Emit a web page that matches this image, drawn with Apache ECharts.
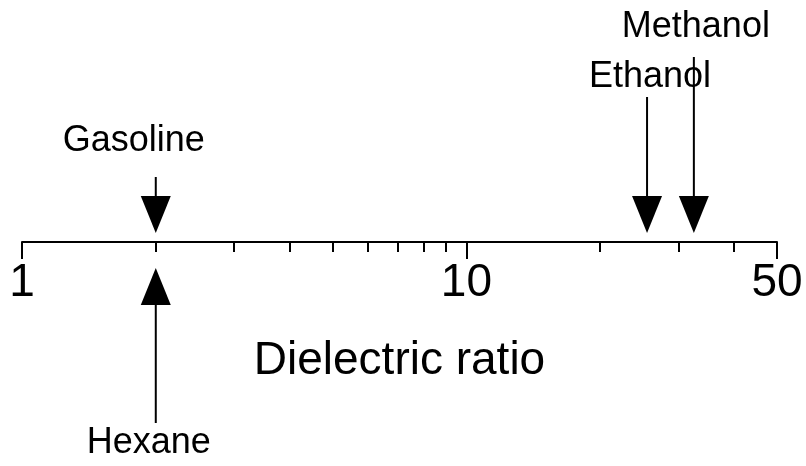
<!DOCTYPE html>
<html>
<head>
<meta charset="utf-8">
<script src="https://cdn.jsdelivr.net/npm/echarts@6/dist/echarts.min.js"></script>
<style>
  html, body { margin: 0; padding: 0; background: #fff; }
  #chart { width: 806px; height: 466px; }
</style>
</head>
<body>
<div id="chart"></div>
<script>
// Liquids and their dielectric ratios (log scale)
const liquids = ['Gasoline', 'Hexane', 'Ethanol', 'Methanol'];
const dielectric = [2.0, 2.0, 25.5, 32.5];

// Labelled ticks and the small ticks between them
const majorTicks = [1, 10, 50];
const minorTicks = [2, 3, 4, 5, 6, 7, 8, 9, 20, 30, 40];

// Arrow drawing (pixels measured from the axis line; +1 = above, -1 = below)
const arrowSide = [1, -1, 1, 1];
const tipGap = [9, 26, 9, 9];
const tailDist = [65, 181, 145, 185];
const labelDist = [101, 201, 165, 215];
const labelShift = [-22, -7, 3, 2];

const FONT = '"Liberation Sans", Arial, Helvetica, sans-serif';
const HEAD_W = 30, HEAD_H = 37, SHAFT = 2;

const chart = echarts.init(document.getElementById('chart'), null, { renderer: 'canvas' });

const seriesData = liquids.map((name, i) => ({ name, value: [dielectric[i], 0] }));

chart.setOption({
  animation: false,
  backgroundColor: '#ffffff',
  grid: { left: 22, right: 29, top: 0, bottom: 224, containLabel: false },
  xAxis: [
    {
      type: 'log', logBase: 10, min: 1, max: 50,
      name: 'Dielectric ratio', nameLocation: 'middle', nameGap: 96,
      nameTextStyle: { fontFamily: FONT, fontSize: 46, color: '#000' },
      axisLine: { show: true, lineStyle: { color: '#000', width: 2 } },
      axisTick: { show: true, customValues: majorTicks, length: 17, lineStyle: { color: '#000', width: 2 } },
      axisLabel: {
        show: true, customValues: majorTicks, margin: 18,
        fontFamily: FONT, fontSize: 46, color: '#000',
        formatter: v => String(Math.round(v))
      },
      splitLine: { show: false }, minorTick: { show: false }
    },
    {
      type: 'log', logBase: 10, min: 1, max: 50, position: 'bottom',
      axisLine: { show: false },
      axisTick: { show: true, customValues: minorTicks, length: 10, lineStyle: { color: '#000', width: 2 } },
      axisLabel: { show: false },
      splitLine: { show: false }
    }
  ],
  yAxis: { type: 'value', min: 0, max: 1, show: false },
  series: [{
    type: 'custom',
    clip: false,
    data: seriesData,
    renderItem: (params, api) => {
      const i = params.dataIndex;
      const p = api.coord([api.value(0), 0]);
      const x = p[0], y0 = p[1];
      const s = arrowSide[i];
      const tipY = y0 - s * tipGap[i];
      const baseY = tipY - s * HEAD_H;
      const tailY = y0 - s * tailDist[i];
      return {
        type: 'group',
        children: [
          { type: 'line', shape: { x1: x, y1: tailY, x2: x, y2: baseY },
            style: { stroke: '#000', lineWidth: SHAFT } },
          { type: 'polygon',
            shape: { points: [[x - HEAD_W / 2, baseY], [x + HEAD_W / 2, baseY], [x, tipY]] },
            style: { fill: '#000' } },
          { type: 'text',
            style: {
              x: x + labelShift[i], y: y0 - s * labelDist[i],
              text: liquids[i], align: 'center', verticalAlign: 'middle',
              font: '36px ' + FONT, fill: '#000'
            } }
        ]
      };
    }
  }]
});
</script>
</body>
</html>
